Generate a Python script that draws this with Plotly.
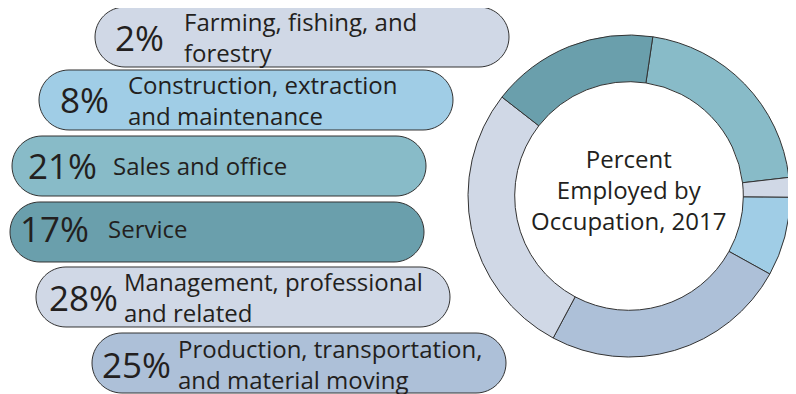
import plotly.graph_objects as go

# Datos (orden de las porciones del anillo, en sentido horario desde arriba)
ocupaciones = [
    "Sales and office",
    "Farming, fishing, and<br>forestry",
    "Construction, extraction<br>and maintenance",
    "Production, transportation,<br>and material moving",
    "Management, professional<br>and related",
    "Service",
]
porcentajes = [21, 2, 8, 25, 28, 17]
colores = ["#88bbc8", "#d0d8e6", "#a0cde6", "#adc0d8", "#d0d8e6", "#6a9fac"]
titulo_centro = "Percent<br>Employed by<br>Occupation, 2017"

# Orden de las "píldoras" de la izquierda, de arriba hacia abajo
orden_pildoras = [1, 2, 0, 5, 4, 3]

# La página tiene el margen de 8px del <body>: la figura se corre 8px
OFF = 8
W, H = 796 - OFF, 394 - OFF
FUENTE = "Open Sans"
TINTA = "#231f20"

# Geometría de las píldoras (px de la imagen): izquierda, arriba, x del %, x de la etiqueta, y del texto
pildoras = [
    (95, 7, 113, 182, 37),
    (39, 70, 58, 126, 100),
    (12, 136, 26, 111, 165),
    (10, 202, 18, 106, 228),
    (36, 267, 47, 122, 297),
    (92, 333, 100, 176, 364),
]
ANCHO_P, ALTO_P = 414, 60


def px(x, y):
    return (x - OFF) / W, 1 - (y - OFF) / H


def ruta_pildora(x0, y0, w, h):
    r = h / 2
    k = 0.5523 * r
    x1, y1 = x0 + w, y0 + h
    pts = [
        ("M", [(x0 + r, y0)]),
        ("L", [(x1 - r, y0)]),
        ("C", [(x1 - r + k, y0), (x1, y0 + r - k), (x1, y0 + r)]),
        ("C", [(x1, y0 + r + k), (x1 - r + k, y1), (x1 - r, y1)]),
        ("L", [(x0 + r, y1)]),
        ("C", [(x0 + r - k, y1), (x0, y1 - r + k), (x0, y0 + r)]),
        ("C", [(x0, y0 + r - k), (x0 + r - k, y0), (x0 + r, y0)]),
    ]
    partes = []
    for cmd, ps in pts:
        coords = " ".join("%.5f,%.5f" % px(a, b) for a, b in ps)
        partes.append(cmd + " " + coords)
    return " ".join(partes) + " Z"


dx0, dy1 = px(468, 35)
dx1, dy0 = px(790, 357)

fig = go.Figure()
fig.add_trace(go.Pie(
    labels=ocupaciones,
    values=porcentajes,
    marker=dict(colors=colores, line=dict(color="#333333", width=1)),
    hole=0.71,
    sort=False,
    direction="clockwise",
    rotation=8.5,
    textinfo="none",
    hoverinfo="label+percent",
    showlegend=False,
    domain=dict(x=[dx0, dx1], y=[dy0, dy1]),
))

shapes = []
annotations = []
for idx, (x0, y0, xp, xl, yt) in zip(orden_pildoras, pildoras):
    shapes.append(dict(
        type="path", xref="paper", yref="paper", layer="below",
        path=ruta_pildora(x0, y0, ANCHO_P, ALTO_P),
        fillcolor=colores[idx], line=dict(color="#333333", width=1),
    ))
    ax, ay = px(xp, yt)
    annotations.append(dict(
        x=ax, y=ay, xref="paper", yref="paper", xanchor="left", yanchor="middle",
        text="%d%%" % porcentajes[idx], showarrow=False,
        font=dict(family=FUENTE, size=35, color=TINTA),
    ))
    lx, ly = px(xl, yt)
    annotations.append(dict(
        x=lx, y=ly, xref="paper", yref="paper", xanchor="left", yanchor="middle",
        text=ocupaciones[idx], showarrow=False, align="left",
        font=dict(family=FUENTE, size=24, color=TINTA),
    ))

cx, cy = px(629, 189)
annotations.append(dict(
    x=cx, y=cy, xref="paper", yref="paper", xanchor="center", yanchor="middle",
    text=titulo_centro, showarrow=False, align="center",
    font=dict(family=FUENTE, size=24, color=TINTA),
))

fig.update_layout(
    width=W, height=H,
    margin=dict(l=0, r=0, t=0, b=0),
    paper_bgcolor="white", plot_bgcolor="white",
    shapes=shapes, annotations=annotations,
)

fig.write_html("out.html")
